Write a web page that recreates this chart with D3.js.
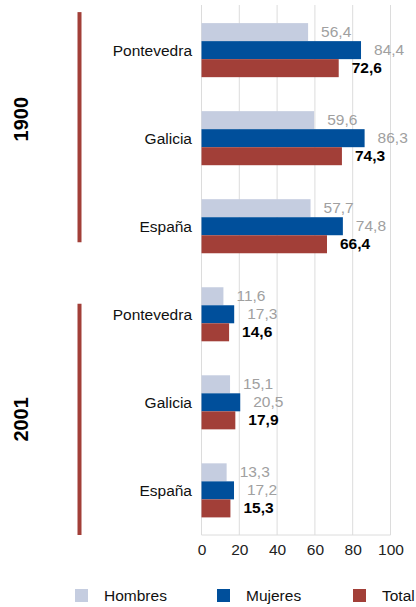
<!DOCTYPE html>
<html>
<head>
<meta charset="utf-8">
<script src="https://cdn.jsdelivr.net/npm/d3@7"></script>
<style>
  body { margin: 0; background: #fff; }
  svg { font-family: "Liberation Sans", Arial, sans-serif; }
</style>
</head>
<body>
<div id="chart"></div>
<script>
// Data
const years = ["1900", "2001"];
const places = ["Pontevedra", "Galicia", "España"];
const series = ["Hombres", "Mujeres", "Total"];
const hombres = [56.4, 59.6, 57.7, 11.6, 15.1, 13.3];
const mujeres = [84.4, 86.3, 74.8, 17.3, 20.5, 17.2];
const total = [72.6, 74.3, 66.4, 14.6, 17.9, 15.3];
const xTicks = [0, 20, 40, 60, 80, 100];

const colors = { Hombres: "#c5cde0", Mujeres: "#004f9b", Total: "#a23f38" };

const width = 416, height = 607;

// one row per year/place combination
const rows = [];
years.forEach((y, yi) => {
  places.forEach((p, pi) => {
    const i = yi * places.length + pi;
    rows.push({ key: y + "-" + p, year: y, place: p,
      values: { Hombres: hombres[i], Mujeres: mujeres[i], Total: total[i] } });
  });
});

const svg = d3.select("#chart")
  .append("svg")
  .attr("width", width)
  .attr("height", height);

// Scales
const x = d3.scaleLinear().domain([0, 100]).range([201.5, 390.5]);
const y = d3.scaleBand()
  .domain(rows.map((d) => d.key))
  .range([5.5, 535])
  .paddingInner(0.386)
  .paddingOuter(0.2);
const ySub = d3.scaleBand().domain(series).range([0, y.bandwidth()]);

// Grid lines
svg.append("g")
  .selectAll("line")
  .data(xTicks)
  .enter()
  .append("line")
  .attr("x1", (d) => x(d))
  .attr("x2", (d) => x(d))
  .attr("y1", 5)
  .attr("y2", 535)
  .attr("stroke", "#dcdcdc")
  .attr("stroke-width", 1);

svg.append("line")
  .attr("x1", x(0))
  .attr("x2", x(100))
  .attr("y1", 535)
  .attr("y2", 535)
  .attr("stroke", "#dcdcdc");

// x axis labels
const xAxis = d3.axisBottom(x).tickValues(xTicks).tickSize(0).tickPadding(9);
svg.append("g")
  .attr("transform", "translate(0,535)")
  .call(xAxis)
  .call((g) => g.select(".domain").remove())
  .call((g) => g.selectAll("text")
    .attr("font-size", 15.5)
    .attr("font-family", "Liberation Sans, Arial, sans-serif")
    .attr("fill", "#222"));

// Bars
const grp = svg.append("g")
  .selectAll("g")
  .data(rows)
  .enter()
  .append("g")
  .attr("transform", (d) => `translate(0,${y(d.key)})`);

grp.selectAll("rect")
  .data((d) => series.map((s) => ({ s: s, v: d.values[s] })))
  .enter()
  .append("rect")
  .attr("x", x(0))
  .attr("y", (d) => ySub(d.s))
  .attr("width", (d) => x(d.v) - x(0))
  .attr("height", ySub.bandwidth())
  .attr("fill", (d) => colors[d.s]);

grp.selectAll("text.val")
  .data((d) => series.map((s) => ({ s: s, v: d.values[s] })))
  .enter()
  .append("text")
  .attr("class", "val")
  .attr("x", (d) => x(d.v) + 13)
  .attr("y", (d) => ySub(d.s) + ySub.bandwidth() / 2 - 1)
  .attr("dy", "0.35em")
  .attr("font-size", 15.5)
  .attr("font-weight", (d) => (d.s === "Total" ? "bold" : "normal"))
  .attr("fill", (d) => (d.s === "Total" ? "#000" : "#a0a0a0"))
  .text((d) => d3.format(".1f")(d.v).replace(".", ","));

// Place labels
grp.append("text")
  .attr("x", 192)
  .attr("y", ySub("Mujeres") + ySub.bandwidth() / 2)
  .attr("dy", "0.35em")
  .attr("text-anchor", "end")
  .attr("font-size", 15.5)
  .attr("fill", "#111")
  .text((d) => d.place);

// Year brackets
const yearSpans = [
  { year: "1900", top: y(rows[0].key) - 11, bottom: y(rows[2].key) + y.bandwidth() - 11, shift: -8 },
  { year: "2001", top: y(rows[3].key) + 16.5, bottom: 535, shift: 0 }
];

svg.append("g")
  .selectAll("rect")
  .data(yearSpans)
  .enter()
  .append("rect")
  .attr("x", 77.5)
  .attr("y", (d) => d.top)
  .attr("width", 4)
  .attr("height", (d) => d.bottom - d.top)
  .attr("fill", colors.Total);

svg.append("g")
  .selectAll("text")
  .data(yearSpans)
  .enter()
  .append("text")
  .attr("transform", (d) => `translate(28,${(d.top + d.bottom) / 2 + d.shift}) rotate(-90)`)
  .attr("text-anchor", "middle")
  .attr("font-size", 20)
  .attr("font-weight", "bold")
  .attr("fill", "#000")
  .text((d) => d.year);

// Legend
const legendX = [75, 217, 353];
const legend = svg.append("g")
  .selectAll("g")
  .data(series)
  .enter()
  .append("g")
  .attr("transform", (d, i) => `translate(${legendX[i]},589)`);

legend.append("rect")
  .attr("width", 13)
  .attr("height", 13)
  .attr("fill", (d) => colors[d]);

legend.append("text")
  .attr("x", 29)
  .attr("y", 6.5)
  .attr("dy", "0.35em")
  .attr("font-size", 15.5)
  .attr("fill", "#111")
  .text((d) => d);
</script>
</body>
</html>
